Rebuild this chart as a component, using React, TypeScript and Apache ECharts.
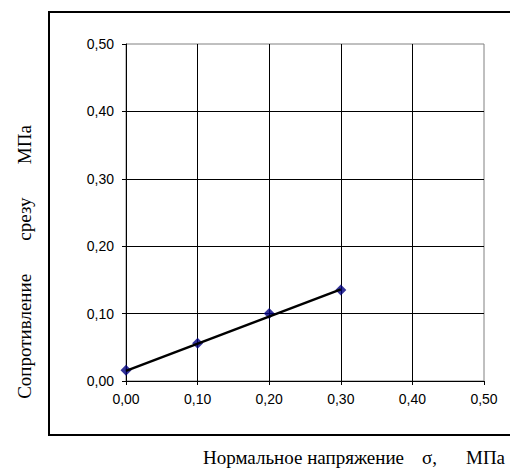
import React, { useEffect, useRef } from "react";
import * as echarts from "echarts";

const sigma = [0, 0.1, 0.2, 0.3];
const tau = [0.016, 0.056, 0.1, 0.135];
const trendX = [0, 0.3];
const trendY = [0.015, 0.136];
const xTitleParts = ["Нормальное напряжение", "σ,", "МПа"];
const yTitle = "Сопротивление       срезу       МПа";

const fmt = (v: number) => v.toFixed(2).replace(".", ",");
const serif = "'Liberation Serif', 'Times New Roman', serif";

export default function App() {
  const ref = useRef<HTMLDivElement>(null);
  useEffect(() => {
    if (!ref.current) return;
    const chart = echarts.init(ref.current, undefined, { renderer: "svg" });
    const xTitleX = [203, 422, 466];
    chart.setOption({
      animation: false,
      backgroundColor: "#ffffff",
      grid: {
        left: 126,
        right: 26,
        top: 44,
        bottom: 87,
        show: true,
        borderColor: "#808080",
        borderWidth: 1,
        backgroundColor: "transparent",
      },
      xAxis: {
        type: "value",
        min: 0,
        max: 0.5,
        interval: 0.1,
        axisLine: { show: true, onZero: false, lineStyle: { color: "#000", width: 1 } },
        axisTick: { show: true, length: 4, lineStyle: { color: "#000" } },
        axisLabel: {
          formatter: fmt,
          margin: 11,
          color: "#000",
          fontFamily: "Liberation Sans, Arial, sans-serif",
          fontSize: 14,
        },
        splitLine: { show: true, showMinLine: false, showMaxLine: false, lineStyle: { color: "#000", width: 1 } },
      },
      yAxis: {
        type: "value",
        min: 0,
        max: 0.5,
        interval: 0.1,
        axisLine: { show: true, onZero: false, lineStyle: { color: "#000", width: 1 } },
        axisTick: { show: true, length: 4, lineStyle: { color: "#000" } },
        axisLabel: {
          formatter: fmt,
          margin: 12,
          color: "#000",
          fontFamily: "Liberation Sans, Arial, sans-serif",
          fontSize: 14,
        },
        splitLine: { show: true, showMinLine: false, showMaxLine: false, lineStyle: { color: "#000", width: 1 } },
      },
      graphic: [
        {
          type: "rect",
          shape: { x: 49, y: 12, width: 480, height: 423 },
          style: { fill: "none", stroke: "#000", lineWidth: 2 },
          silent: true,
          z: -1,
        },
        ...xTitleParts.map((t, i) => ({
          type: "text",
          x: xTitleX[i],
          y: 457,
          style: {
            text: t,
            font: `19px ${serif}`,
            fill: "#000",
            textAlign: "left",
            textVerticalAlign: "middle",
          },
        })),
        {
          type: "text",
          x: 24,
          y: 262,
          rotation: Math.PI / 2,
          style: {
            text: yTitle,
            font: `19px ${serif}`,
            fill: "#000",
            textAlign: "center",
            textVerticalAlign: "middle",
          },
        },
      ],
      series: [
        {
          type: "scatter",
          data: sigma.map((x, i) => [x, tau[i]]),
          symbol: "diamond",
          symbolSize: 11,
          itemStyle: { color: "#000080" },
          z: 2,
        },
        {
          type: "line",
          data: trendX.map((x, i) => [x, trendY[i]]),
          showSymbol: false,
          symbol: "none",
          lineStyle: { color: "#000", width: 2.5 },
          z: 3,
        },
      ],
    });
    return () => chart.dispose();
  }, []);
  return (
    <div
      ref={ref}
      style={{ position: "absolute", left: 0, top: 0, width: 510, height: 468 }}
    />
  );
}
